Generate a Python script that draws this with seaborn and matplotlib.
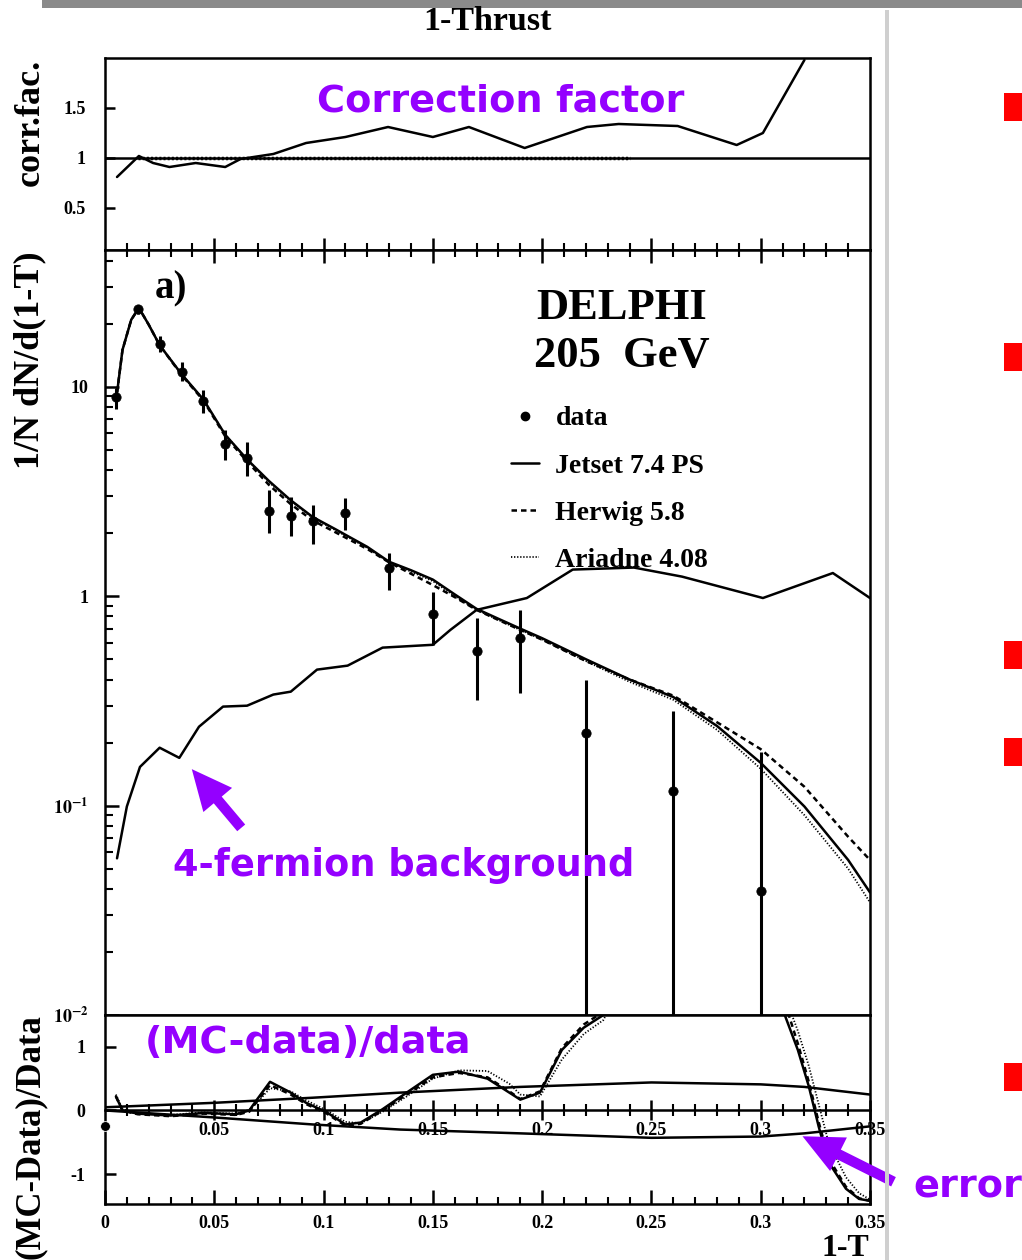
import numpy as np
import pandas as pd
import seaborn as sns
import matplotlib
matplotlib.use("Agg")
import matplotlib.pyplot as plt
from matplotlib.patches import Rectangle, FancyArrowPatch
from matplotlib.lines import Line2D
from matplotlib.ticker import FixedLocator, NullFormatter, FixedFormatter

# ---------------- data ----------------
# correction factor (top panel)
corr_x = [0.0055, 0.0155, 0.022, 0.0295, 0.0415, 0.055, 0.062, 0.077, 0.092, 0.11, 0.1295,
          0.150, 0.1665, 0.192, 0.2205, 0.235, 0.262, 0.289, 0.301, 0.320]
corr_y = [0.81, 1.02, 0.95, 0.91, 0.95, 0.91, 0.99, 1.04, 1.15, 1.21, 1.31,
          1.21, 1.31, 1.10, 1.31, 1.34, 1.32, 1.13, 1.25, 1.98]

# measured data (main panel)
data_x = [0.005, 0.015, 0.025, 0.035, 0.045, 0.055, 0.065, 0.075, 0.085, 0.095,
          0.11, 0.13, 0.15, 0.17, 0.19, 0.22, 0.26, 0.30]
data_y = [8.9, 23.5, 16.0, 11.8, 8.6, 5.35, 4.58, 2.56, 2.42, 2.29,
          2.5, 1.37, 0.82, 0.55, 0.63, 0.223, 0.118, 0.039]
data_hi = [9.9, 24.6, 17.5, 13.2, 9.7, 6.24, 5.46, 3.22, 2.98, 2.73,
           2.95, 1.61, 1.05, 0.79, 0.86, 0.40, 0.284, 0.181]
data_lo = [7.8, 22.3, 14.7, 10.6, 7.5, 4.49, 3.76, 2.01, 1.94, 1.78,
           2.08, 1.07, 0.586, 0.32, 0.346, 0.001, 0.001, 0.001]

# Monte Carlo predictions (main panel)
mc_x = [0.005, 0.008, 0.012, 0.0155, 0.02, 0.025, 0.035, 0.045, 0.055, 0.065, 0.075,
        0.085, 0.095, 0.105, 0.12, 0.13, 0.14, 0.15, 0.16, 0.17, 0.18, 0.19, 0.20,
        0.22, 0.24, 0.26, 0.28, 0.30, 0.32, 0.34, 0.35]
jetset_y = [8.5, 15.0, 20.9, 23.8, 19.8, 15.8, 11.5, 8.7, 5.9, 4.5, 3.55,
            2.87, 2.39, 2.1, 1.72, 1.46, 1.33, 1.2, 1.02, 0.87, 0.78, 0.70, 0.63,
            0.50, 0.40, 0.33, 0.24, 0.16, 0.099, 0.055, 0.0385]
herwig_y = [8.5, 15.0, 20.9, 23.8, 19.8, 15.8, 11.4, 8.6, 5.8, 4.4, 3.4,
            2.75, 2.3, 2.03, 1.68, 1.45, 1.28, 1.13, 0.99, 0.86, 0.77, 0.69, 0.62,
            0.49, 0.40, 0.335, 0.25, 0.186, 0.123, 0.071, 0.055]
ariadne_y = [8.5, 15.0, 20.9, 23.8, 19.8, 15.8, 11.5, 8.7, 5.9, 4.5, 3.5,
             2.85, 2.37, 2.08, 1.70, 1.45, 1.31, 1.18, 1.0, 0.86, 0.77, 0.69, 0.62,
             0.49, 0.39, 0.32, 0.23, 0.15, 0.09, 0.05, 0.0345]

# 4-fermion background
bkg_x = [0.0055, 0.010, 0.016, 0.025, 0.034, 0.043, 0.054, 0.065, 0.077, 0.085, 0.097,
         0.111, 0.127, 0.150, 0.158, 0.170, 0.193, 0.214, 0.242, 0.264, 0.301, 0.333, 0.35]
bkg_y = [0.056, 0.099, 0.153, 0.189, 0.169, 0.238, 0.297, 0.30, 0.339, 0.35, 0.446,
         0.466, 0.568, 0.586, 0.69, 0.86, 0.98, 1.34, 1.37, 1.24, 0.98, 1.29, 0.98]

# (MC-Data)/Data (bottom panel)
band_x = [0.0, 0.05, 0.095, 0.135, 0.19, 0.25, 0.30, 0.32, 0.35]
band_up = [0.05, 0.12, 0.20, 0.28, 0.37, 0.44, 0.41, 0.37, 0.25]
band_lo = [0.0, -0.11, -0.22, -0.30, -0.36, -0.43, -0.41, -0.36, -0.25]

ratio_x = [0.005, 0.008, 0.015, 0.03, 0.045, 0.06, 0.066, 0.0695, 0.0755, 0.085, 0.092,
           0.1015, 0.11, 0.117, 0.127, 0.138, 0.150, 0.162, 0.175, 0.185, 0.19, 0.199,
           0.209, 0.219, 0.228, 0.25, 0.28, 0.30, 0.311, 0.317, 0.322, 0.3265, 0.331,
           0.339, 0.345, 0.35]
ratio_jetset = [0.22, 0.0, -0.05, -0.08, -0.04, -0.06, 0.0, 0.17, 0.45, 0.28, 0.12,
                -0.03, -0.22, -0.19, 0.02, 0.28, 0.56, 0.61, 0.50, 0.28, 0.17, 0.28,
                0.95, 1.30, 1.5, 3.0, 4.0, 3.0, 1.5, 0.95, 0.38, -0.25, -0.81,
                -1.23, -1.39, -1.42]
ratio_herwig = [0.22, 0.0, -0.06, -0.09, -0.05, -0.07, -0.02, 0.14, 0.40, 0.25, 0.10,
                -0.05, -0.24, -0.21, 0.0, 0.25, 0.52, 0.59, 0.52, 0.30, 0.18, 0.30,
                0.98, 1.35, 1.55, 3.2, 4.3, 3.3, 1.7, 1.05, 0.45, -0.18, -0.75,
                -1.2, -1.38, -1.42]
ratio_ariadne = [0.25, 0.02, -0.04, -0.07, -0.03, -0.05, 0.01, 0.12, 0.35, 0.30, 0.16,
                 0.0, -0.18, -0.2, -0.02, 0.22, 0.50, 0.63, 0.62, 0.42, 0.25, 0.22,
                 0.80, 1.20, 1.42, 2.9, 4.2, 3.2, 1.8, 1.25, 0.7, 0.1, -0.5,
                 -1.05, -1.3, -1.4]
ratio_first_x = [0.0]
ratio_first_y = [-0.25]

x_major = [0.05, 0.10, 0.15, 0.20, 0.25, 0.30, 0.35]
x_major_labels = ["0.05", "0.1", "0.15", "0.2", "0.25", "0.3", "0.35"]
x_bottom = [0.0] + x_major
x_bottom_labels = ["0"] + x_major_labels

# ---------------- style ----------------
sns.set_theme(style="ticks")
plt.rcParams["font.family"] = ["Liberation Serif", "DejaVu Serif"]
plt.rcParams["font.weight"] = "bold"
plt.rcParams["mathtext.fontset"] = "stix"
plt.rcParams["axes.edgecolor"] = "black"
plt.rcParams["axes.linewidth"] = 1.8
plt.rcParams["xtick.color"] = "black"
plt.rcParams["ytick.color"] = "black"
plt.rcParams["text.color"] = "black"
plt.rcParams["axes.labelcolor"] = "black"
plt.rcParams["legend.labelcolor"] = "black"

W, H = 1022, 1260
fig = plt.figure(figsize=(10.22, 12.6), dpi=100)
fig.patch.set_facecolor("white")


def fx(p):
    return p / W


def fy(p):
    return 1 - p / H


X0, X1 = 105, 870
ax_top = fig.add_axes([fx(X0), fy(250), (X1 - X0) / W, (250 - 58) / H])
ax_main = fig.add_axes([fx(X0), fy(1015), (X1 - X0) / W, (1015 - 250) / H])
ax_bot = fig.add_axes([fx(X0), fy(1204), (X1 - X0) / W, (1204 - 1015) / H])

PURPLE = "#9400FF"
LW = 1.8
TICKFS = 13
DASH = (0, (2.2, 1.6))
DOT = (0, (0.7, 1.0))

# ---------------- top panel ----------------
sns.lineplot(x=corr_x, y=corr_y, ax=ax_top, color="black", lw=LW)
ax_top.axhline(1.0, color="black", lw=LW)
ax_top.hlines(1.0, 0.015, 0.24, color="black", lw=2.5, linestyles=(0, (0.6, 0.6)))
ax_top.set_xlim(0, 0.35)
ax_top.set_ylim(0.08, 2.0)
ax_top.set_xticks([])
ax_top.yaxis.set_major_locator(FixedLocator([0.5, 1.0, 1.5]))
ax_top.yaxis.set_major_formatter(FixedFormatter(["0.5", "1", "1.5"]))
ax_top.tick_params(axis="y", direction="in", length=7, width=1.8, labelsize=TICKFS, pad=14)
for s in ax_top.spines.values():
    s.set_linewidth(LW)

# ---------------- main panel ----------------
ax_main.set_yscale("log")
sns.lineplot(x=mc_x, y=jetset_y, ax=ax_main, color="black", lw=LW)
sns.lineplot(x=mc_x, y=herwig_y, ax=ax_main, color="black", lw=LW, linestyle=DASH)
sns.lineplot(x=mc_x, y=ariadne_y, ax=ax_main, color="black", lw=1.3, linestyle=DOT)
sns.lineplot(x=bkg_x, y=bkg_y, ax=ax_main, color="black", lw=LW)
yerr = [np.array(data_y) - np.array(data_lo), np.array(data_hi) - np.array(data_y)]
ax_main.errorbar(data_x, data_y, yerr=yerr, fmt="none", ecolor="black", elinewidth=2.2, capsize=0)
sns.scatterplot(x=data_x, y=data_y, ax=ax_main, color="black", s=45, edgecolor="black", zorder=5)
ax_main.set_xlim(0, 0.35)
ax_main.set_ylim(0.01, 45)
ax_main.yaxis.set_major_locator(FixedLocator([0.01, 0.1, 1, 10]))
ax_main.yaxis.set_major_formatter(FixedFormatter([r"$\mathbf{10^{-2}}$", r"$\mathbf{10^{-1}}$", "1", "10"]))
minors = [m * 10.0 ** e for e in (-2, -1, 0, 1) for m in range(2, 10) if m * 10.0 ** e < 45]
ax_main.yaxis.set_minor_locator(FixedLocator(minors))
ax_main.yaxis.set_minor_formatter(NullFormatter())
ax_main.tick_params(axis="y", which="major", direction="in", length=10, width=1.8, labelsize=TICKFS, pad=12)
ax_main.tick_params(axis="y", which="minor", direction="in", length=6, width=1.5)
ax_main.xaxis.set_major_locator(FixedLocator([0.05, 0.10, 0.15, 0.20, 0.25, 0.30]))
ax_main.xaxis.set_minor_locator(FixedLocator([i / 100 for i in range(1, 35)]))
ax_main.xaxis.tick_top()
ax_main.tick_params(axis="x", which="major", direction="inout", length=18, width=1.8, labeltop=False, labelbottom=False)
ax_main.tick_params(axis="x", which="minor", direction="inout", length=10, width=1.5)
ax_main.xaxis.set_minor_formatter(NullFormatter())
for s in ax_main.spines.values():
    s.set_linewidth(LW)

handles = [
    Line2D([], [], marker="o", ls="none", color="black", ms=6),
    Line2D([], [], color="black", lw=LW),
    Line2D([], [], color="black", lw=LW, ls=DASH),
    Line2D([], [], color="black", lw=1.3, ls=DOT),
]
leg = ax_main.legend(handles, ["data", "Jetset 7.4 PS", "Herwig 5.8", "Ariadne 4.08"],
                     loc="upper left", bbox_to_anchor=(fx(511), fy(406)),
                     bbox_transform=fig.transFigure, frameon=False,
                     prop={"family": "Liberation Serif", "weight": "bold", "size": 20},
                     handlelength=1.0, handletextpad=0.6, labelspacing=0.78,
                     borderpad=0, borderaxespad=0)
for t in leg.get_texts():
    t.set_color("black")
leg.set_zorder(1)

# ---------------- bottom panel ----------------
sns.lineplot(x=band_x, y=band_up, ax=ax_bot, color="black", lw=LW)
sns.lineplot(x=band_x, y=band_lo, ax=ax_bot, color="black", lw=LW)
sns.lineplot(x=ratio_x, y=ratio_jetset, ax=ax_bot, color="black", lw=LW)
sns.lineplot(x=ratio_x, y=ratio_herwig, ax=ax_bot, color="black", lw=LW, linestyle=DASH)
sns.lineplot(x=ratio_x, y=ratio_ariadne, ax=ax_bot, color="black", lw=1.3, linestyle=DOT)
sns.scatterplot(x=ratio_first_x, y=ratio_first_y, ax=ax_bot, color="black", s=50, clip_on=False, zorder=6)
ax_bot.set_xlim(0, 0.35)
ax_bot.set_ylim(-1.47, 1.5)
ax_bot.yaxis.set_major_locator(FixedLocator([-1, 0, 1]))
ax_bot.yaxis.set_major_formatter(FixedFormatter(["-1", "0", "1"]))
ax_bot.tick_params(axis="y", direction="in", length=8, width=1.8, labelsize=TICKFS, pad=14)
ax_bot.xaxis.set_major_locator(FixedLocator(x_bottom))
ax_bot.xaxis.set_major_formatter(FixedFormatter(x_bottom_labels))
ax_bot.xaxis.set_minor_locator(FixedLocator([i / 100 for i in range(1, 35)]))
ax_bot.xaxis.set_minor_formatter(NullFormatter())
ax_bot.tick_params(axis="x", which="major", direction="in", length=10, width=1.8, labelsize=TICKFS, pad=8)
ax_bot.tick_params(axis="x", which="minor", direction="in", length=5, width=1.5)
for s in ax_bot.spines.values():
    s.set_linewidth(LW)

zero_frac = 1.47 / (1.5 + 1.47)
sec = ax_bot.secondary_xaxis(zero_frac)
sec.xaxis.set_ticks_position("bottom")
sec.set_xticks(x_major)
sec.set_xticklabels(x_major_labels)
sec.xaxis.set_minor_locator(FixedLocator([i / 100 for i in range(1, 35)]))
sec.xaxis.set_minor_formatter(NullFormatter())
sec.tick_params(axis="x", which="major", direction="inout", length=14, width=1.8, labelsize=TICKFS, pad=1)
sec.tick_params(axis="x", which="minor", direction="inout", length=9, width=1.5)
sec.spines["bottom"].set_linewidth(LW)

# ---------------- texts ----------------
serif = dict(family="Liberation Serif", weight="bold", color="black")
fig.text(fx(487), fy(22), "1-Thrust", ha="center", va="center", fontsize=24.5, **serif)
fig.text(fx(30), fy(122), "corr.fac.", ha="center", va="center", rotation=90, fontsize=26, **serif)
fig.text(fx(30), fy(360), "1/N dN/d(1-T)", ha="center", va="center", rotation=90, fontsize=26, **serif)
fig.text(fx(30), fy(1137), "(MC-Data)/Data", ha="center", va="center", rotation=90, fontsize=25, **serif)
fig.text(fx(171), fy(289), "a)", ha="center", va="center", fontsize=28, **serif)
fig.text(fx(622), fy(308), "DELPHI", ha="center", va="center", fontsize=32, **serif)
fig.text(fx(622), fy(356), "205  GeV", ha="center", va="center", fontsize=32, **serif)
fig.text(fx(845), fy(1248), "1-T", ha="center", va="center", fontsize=23, **serif)

ann = dict(family="DejaVu Sans", weight="bold", color=PURPLE)
fig.text(fx(501), fy(101), "Correction factor", ha="center", va="center", fontsize=27.5, **ann)
fig.text(fx(404), fy(866), "4-fermion background", ha="center", va="center", fontsize=26.5, **ann)
fig.text(fx(308), fy(1043), "(MC-data)/data", ha="center", va="center", fontsize=27.5, **ann)
fig.text(fx(913), fy(1188), "error", ha="left", va="center", fontsize=27.5, **ann)

for tail, head in [((243, 830), (190, 767)), ((896, 1183), (800, 1135))]:
    arr = FancyArrowPatch((fx(tail[0]), fy(tail[1])), (fx(head[0]), fy(head[1])),
                          transform=fig.transFigure, color=PURPLE,
                          arrowstyle="simple,head_length=2.9,head_width=2.7,tail_width=0.75",
                          mutation_scale=10, lw=0, capstyle="round")
    fig.add_artist(arr)

# ---------------- slide decorations ----------------
fig.add_artist(Rectangle((fx(42), fy(8)), fx(1022) - fx(42), 8 / H, transform=fig.transFigure,
                         color="#8a8a8a", lw=0))
fig.add_artist(Rectangle((fx(885), 0), 4 / W, fy(10), transform=fig.transFigure,
                         color="#cfcfcf", lw=0))
for top_px, h_px in [(93, 28), (343, 28), (641, 28), (738, 28), (1063, 28)]:
    fig.add_artist(Rectangle((fx(1004), fy(top_px + h_px)), 20 / W, h_px / H,
                             transform=fig.transFigure, color="#ff0000", lw=0))

fig.savefig("out.png", dpi=100, facecolor="white")
